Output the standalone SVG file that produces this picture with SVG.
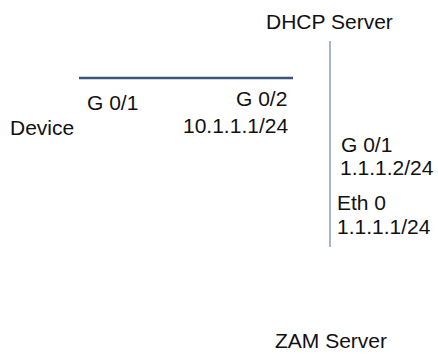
<svg xmlns="http://www.w3.org/2000/svg" width="438" height="354" viewBox="0 0 438 354">
<style>
text{font-family:"Liberation Sans",Arial,sans-serif;font-size:21px;fill:#111}
.link1{stroke:#3b5578;stroke-width:2.5;fill:none}
.link2{stroke:#7b8daa;stroke-width:1.3;fill:none}
</style>
<rect width="438" height="354" fill="#fff"/>
<g id="connectors">
<line class="link1" x1="79" y1="78" x2="293" y2="78"/>
<line class="link2" x1="330" y1="41" x2="330" y2="247"/>
</g>
<g id="dhcp-server"><text x="266" y="29">DHCP Server</text></g>
<g id="device"><text x="10" y="135">Device</text></g>
<g id="device-g01"><text x="87" y="110">G 0/1</text></g>
<g id="device-g02"><text x="236" y="106">G 0/2</text><text x="183" y="133">10.1.1.1/24</text></g>
<g id="dhcp-g01"><text x="341" y="152">G 0/1</text><text x="340" y="175">1.1.1.2/24</text></g>
<g id="zam-eth0"><text x="337" y="210">Eth 0</text><text x="337" y="234">1.1.1.1/24</text></g>
<g id="zam-server"><text x="275" y="348">ZAM Server</text></g>
</svg>
